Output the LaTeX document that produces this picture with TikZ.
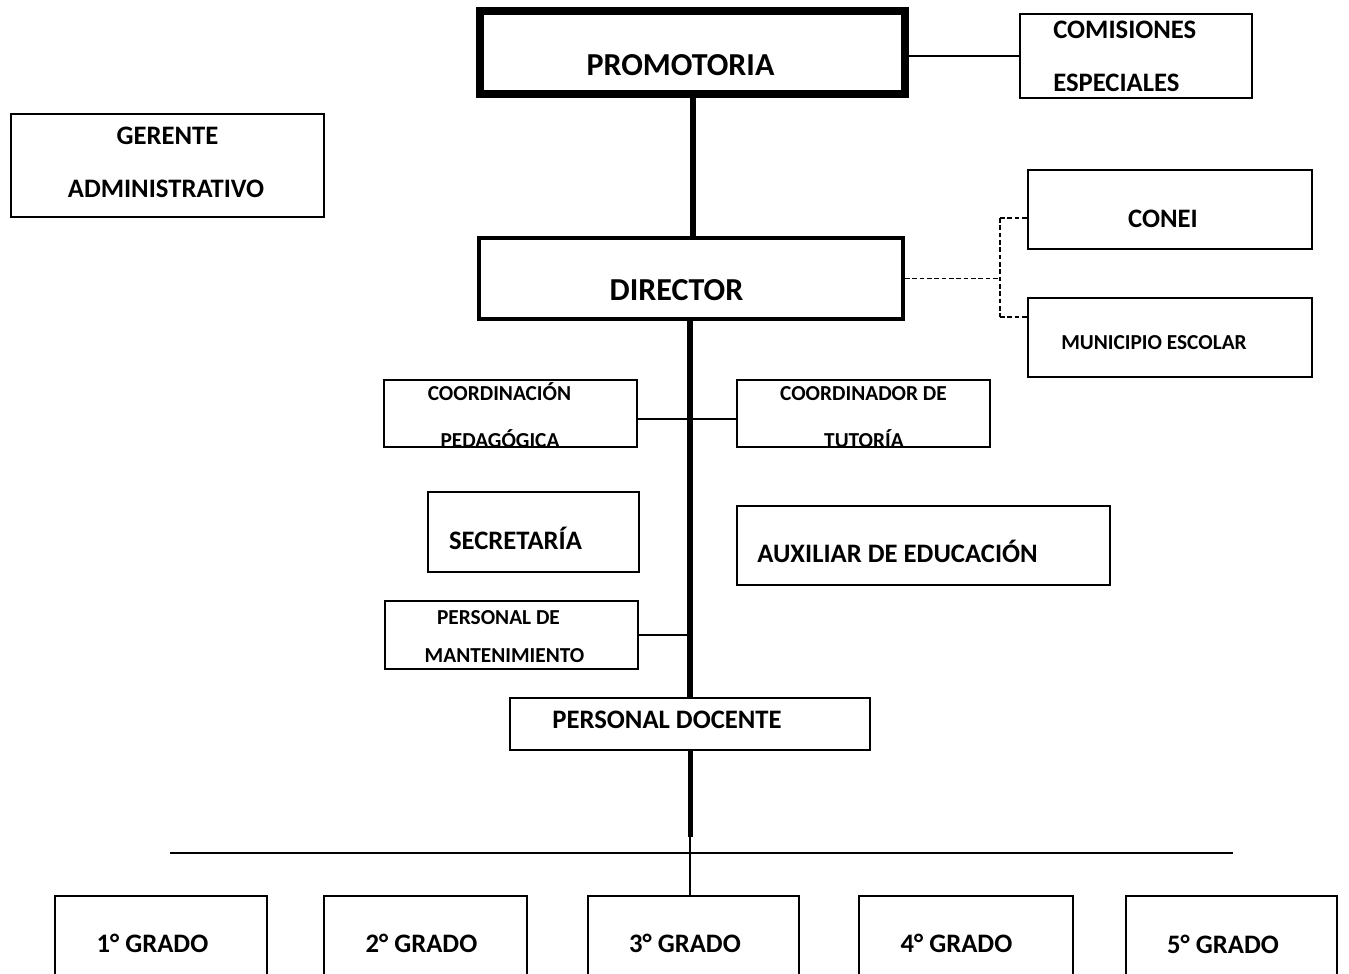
\documentclass[tikz,border=0pt]{standalone}
\usepackage{fontspec}
\setmainfont{Carlito}
\begin{document}
\begin{tikzpicture}[x=0.75pt,y=-0.75pt,
  box/.style={draw, line width=1.5pt, inner sep=0pt},
  conn/.style={line width=1.3pt},
  trunk/.style={line width=4.5pt},
  dsh/.style={line width=1.4pt, dash pattern=on 3.5pt off 2pt},
  tbig/.style={inner sep=0pt, anchor=base, font=\bfseries\fontsize{24}{28}\selectfont},
  tmed/.style={inner sep=0pt, anchor=base, font=\bfseries\fontsize{20}{24}\selectfont},
  tsml/.style={inner sep=0pt, anchor=base, font=\bfseries\fontsize{16}{19}\selectfont}]
\useasboundingbox (0,0) rectangle (1349,974);
\clip (0,0) rectangle (1349,974);
% boxes
\node[box, line width=6.5pt, minimum width=318.75pt, minimum height=62.25pt] (prom) at (692.5,52.5) {};
\node[box, minimum width=174pt, minimum height=63pt] (com) at (1136,56) {};
\node[box, minimum width=234.75pt, minimum height=77.25pt] (ger) at (167.5,165.5) {};
\node[box, line width=3pt, minimum width=318pt, minimum height=60.75pt] (dir) at (691,278.5) {};
\node[box, minimum width=213pt, minimum height=59.25pt] (conei) at (1170,209.5) {};
\node[box, minimum width=213pt, minimum height=59.25pt] (muni) at (1170,337.5) {};
\node[box, minimum width=189.75pt, minimum height=50.25pt] (coordp) at (510.5,413.5) {};
\node[box, minimum width=189.75pt, minimum height=50.25pt] (coordt) at (863.5,413.5) {};
\node[box, minimum width=158.25pt, minimum height=60pt] (secr) at (533.5,532) {};
\node[box, minimum width=279.75pt, minimum height=59.25pt] (aux) at (923.5,545.5) {};
\node[box, minimum width=189.75pt, minimum height=51pt] (mant) at (511.5,635) {};
\node[box, minimum width=270pt, minimum height=39pt] (doc) at (690,724) {};
\node[box, minimum width=159pt, minimum height=78pt] (g1) at (161,948) {};
\node[box, minimum width=152.25pt, minimum height=78pt] (g2) at (425.5,948) {};
\node[box, minimum width=158.25pt, minimum height=78pt] (g3) at (693.5,948) {};
\node[box, minimum width=160.5pt, minimum height=78pt] (g4) at (966,948) {};
\node[box, minimum width=158.25pt, minimum height=78pt] (g5) at (1231.5,948) {};
% coordinates
\coordinate (dtop) at (1000,218);
\coordinate (dbot) at (1000,317);
\coordinate (cl) at (0,419);
\coordinate (tend) at (691,837);
\coordinate (busL) at (170,853);
\coordinate (busR) at (1233,853);
% connectors
\draw[trunk] (prom.south) -- (prom.south |- dir.north);
\draw[trunk] (doc.north |- dir.south) -- (doc.north);
\draw[line width=3.75pt] (doc.south) -- (doc.south |- tend);
\draw[conn] (doc.south |- tend) -- (doc.south |- g3.north);
\draw[conn] (busL) -- (busR);
\draw[conn] (com.west -| prom.east) -- (com.west);
\draw[dsh] (dir.east) -- (dir.east -| dtop);
\draw[dsh] (dtop) -- (dbot);
\draw[dsh] (dtop) -- (dtop -| conei.west);
\draw[dsh] (dbot) -- (dbot -| muni.west);
\draw[conn] (cl -| coordp.east) -- (cl -| coordt.west);
\draw[conn] (mant.east) -- (mant.east -| doc.north);
% texts
\node[tbig] (promT) at (680.5,76) {PROMOTORIA};
\node[tmed, anchor=base west] (comT1) at (1053,39) {COMISIONES};
\node[tmed, anchor=base west] (comT2) at (1053,92) {ESPECIALES};
\node[tmed] (gerT1) at (167.5,144) {GERENTE};
\node[tmed] (gerT2) at (166,197) {ADMINISTRATIVO};
\node[tbig] (dirT) at (676.5,300) {DIRECTOR};
\node[tmed] (coneiT) at (1163,227) {CONEI};
\node[tsml] (muniT) at (1154,349) {MUNICIPIO ESCOLAR};
\node[tsml] (cpT1) at (499.5,400) {COORDINACIÓN};
\node[tsml] (cpT2) at (500,447) {PEDAGÓGICA};
\node[tsml] (ctT1) at (863.5,400) {COORDINADOR DE};
\node[tsml] (ctT2) at (864,447) {TUTORÍA};
\node[tmed] (secT) at (515.5,549) {SECRETARÍA};
\node[tmed] (auxT) at (897.5,562) {AUXILIAR DE EDUCACIÓN};
\node[tsml] (mT1) at (498.5,624) {PERSONAL DE};
\node[tsml] (mT2) at (504.5,662) {MANTENIMIENTO};
\node[tmed] (docT) at (667,728) {PERSONAL DOCENTE};
\node[tmed] (g1T) at (152.5,952) {1° GRADO};
\node[tmed] (g2T) at (421.5,952) {2° GRADO};
\node[tmed] (g3T) at (685,952) {3° GRADO};
\node[tmed] (g4T) at (956.5,952) {4° GRADO};
\node[tmed] (g5T) at (1223,953) {5° GRADO};
\end{tikzpicture}
\end{document}
